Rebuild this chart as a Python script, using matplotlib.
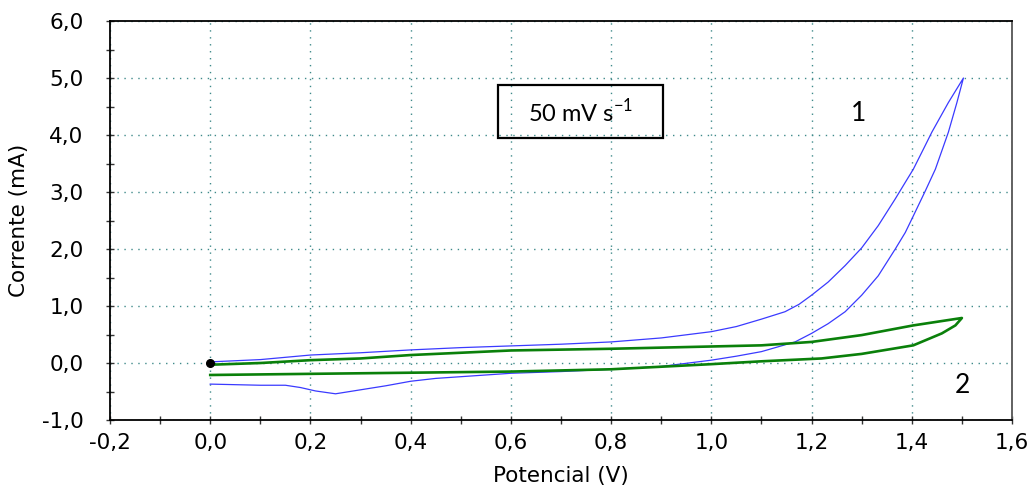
import matplotlib
matplotlib.use("Agg")
import matplotlib.pyplot as plt
from matplotlib.ticker import MultipleLocator, FuncFormatter
from matplotlib.patches import Rectangle

# ---- data ----
blue_fwd_x = [0.0, 0.1, 0.2, 0.3, 0.4, 0.5, 0.6, 0.7, 0.8, 0.9, 1.0, 1.05, 1.1, 1.147, 1.175,
              1.2, 1.233, 1.267, 1.3, 1.333, 1.367, 1.387, 1.403, 1.423, 1.44, 1.473, 1.503]
blue_fwd_y = [0.02, 0.06, 0.14, 0.18, 0.23, 0.27, 0.30, 0.33, 0.37, 0.44, 0.55, 0.64, 0.77, 0.90, 1.03,
              1.19, 1.42, 1.71, 2.02, 2.41, 2.88, 3.17, 3.40, 3.75, 4.05, 4.57, 5.0]
blue_rev_x = [1.503, 1.49, 1.473, 1.447, 1.427, 1.403, 1.387, 1.367, 1.333, 1.3, 1.267, 1.233,
              1.2, 1.167, 1.1, 1.05, 1.0, 0.9, 0.8, 0.7, 0.6, 0.5, 0.45, 0.4, 0.35, 0.3, 0.25,
              0.21, 0.18, 0.15, 0.1, 0.05, 0.0]
blue_rev_y = [5.0, 4.57, 4.05, 3.40, 3.02, 2.58, 2.29, 2.00, 1.53, 1.19, 0.90, 0.69,
              0.52, 0.37, 0.20, 0.12, 0.05, -0.06, -0.11, -0.15, -0.18, -0.24, -0.27, -0.32, -0.40, -0.47, -0.54,
              -0.49, -0.43, -0.39, -0.39, -0.38, -0.37]

green_fwd_x = [0.0, 0.1, 0.2, 0.3, 0.4, 0.5, 0.6, 0.8, 1.0, 1.1, 1.2, 1.3, 1.403, 1.5]
green_fwd_y = [-0.03, 0.0, 0.05, 0.08, 0.14, 0.18, 0.22, 0.25, 0.29, 0.31, 0.37, 0.49, 0.66, 0.79]
green_rev_x = [1.5, 1.487, 1.46, 1.403, 1.3, 1.22, 1.1, 1.0, 0.8, 0.6, 0.4, 0.2, 0.0]
green_rev_y = [0.79, 0.66, 0.52, 0.31, 0.16, 0.08, 0.03, -0.02, -0.11, -0.15, -0.17, -0.19, -0.21]

start_point = (0.0, 0.0)
curve_labels = ["1", "2"]
label_pos = [(1.294, 4.37), (1.502, -0.40)]
rate_text = r"50 mV s$^{\mathregular{-1}}$"

xlim = (-0.2, 1.6)
ylim = (-1.0, 6.0)

# ---- figure ----
fig = plt.figure(figsize=(10.33, 4.97), dpi=100)
ax = fig.add_axes([0.1065, 0.1549, 0.8732, 0.8028])

blue = "#3a3aff"
green = "#0a800a"
ax.plot(blue_fwd_x + blue_rev_x, blue_fwd_y + blue_rev_y, color=blue, lw=0.9, zorder=3)
ax.plot(green_fwd_x + green_rev_x, green_fwd_y + green_rev_y, color=green, lw=1.9, zorder=3)
ax.plot([start_point[0]], [start_point[1]], "o", color="black", ms=5.5, zorder=4)

ax.set_xlim(*xlim)
ax.set_ylim(*ylim)
ax.xaxis.set_major_locator(MultipleLocator(0.2))
ax.xaxis.set_minor_locator(MultipleLocator(0.1))
ax.yaxis.set_major_locator(MultipleLocator(1.0))
ax.yaxis.set_minor_locator(MultipleLocator(0.5))
fmt = FuncFormatter(lambda v, p: f"{v:.1f}".replace(".", ",").replace("-0,0", "0,0"))
ax.xaxis.set_major_formatter(fmt)
ax.yaxis.set_major_formatter(fmt)

tickfont = 15.5
ax.tick_params(axis="both", which="both", direction="inout", length=6, width=1.0,
               color="#333333", labelsize=tickfont)
ax.tick_params(axis="x", which="major", pad=6)
ax.tick_params(axis="y", which="major", pad=16)
ax.tick_params(top=False, right=False)

ax.grid(True, which="major", color="#3f8a8a", linestyle=(0, (1, 4)), linewidth=1.0)
ax.set_axisbelow(True)

for s in ax.spines.values():
    s.set_color("black")
    s.set_linewidth(1.3)
ax.spines["right"].set_color("#555555")

ax.set_xlabel("Potencial (V)", fontsize=tickfont, labelpad=10)
ax.set_ylabel("Corrente (mA)", fontsize=tickfont, labelpad=9)

# annotation box
box = Rectangle((0.574, 3.95), 0.33, 0.93, transform=ax.transData, fill=False,
                edgecolor="black", linewidth=1.6, zorder=5)
ax.add_patch(box)
ax.text(0.739, 4.40, rate_text, ha="center", va="center", fontsize=17,
        family="Lato", zorder=6)

for lab, (lx, ly) in zip(curve_labels, label_pos):
    ax.text(lx, ly, lab, ha="center", va="center", fontsize=19, family="Lato", zorder=6)

fig.savefig("out.png", dpi=100)
